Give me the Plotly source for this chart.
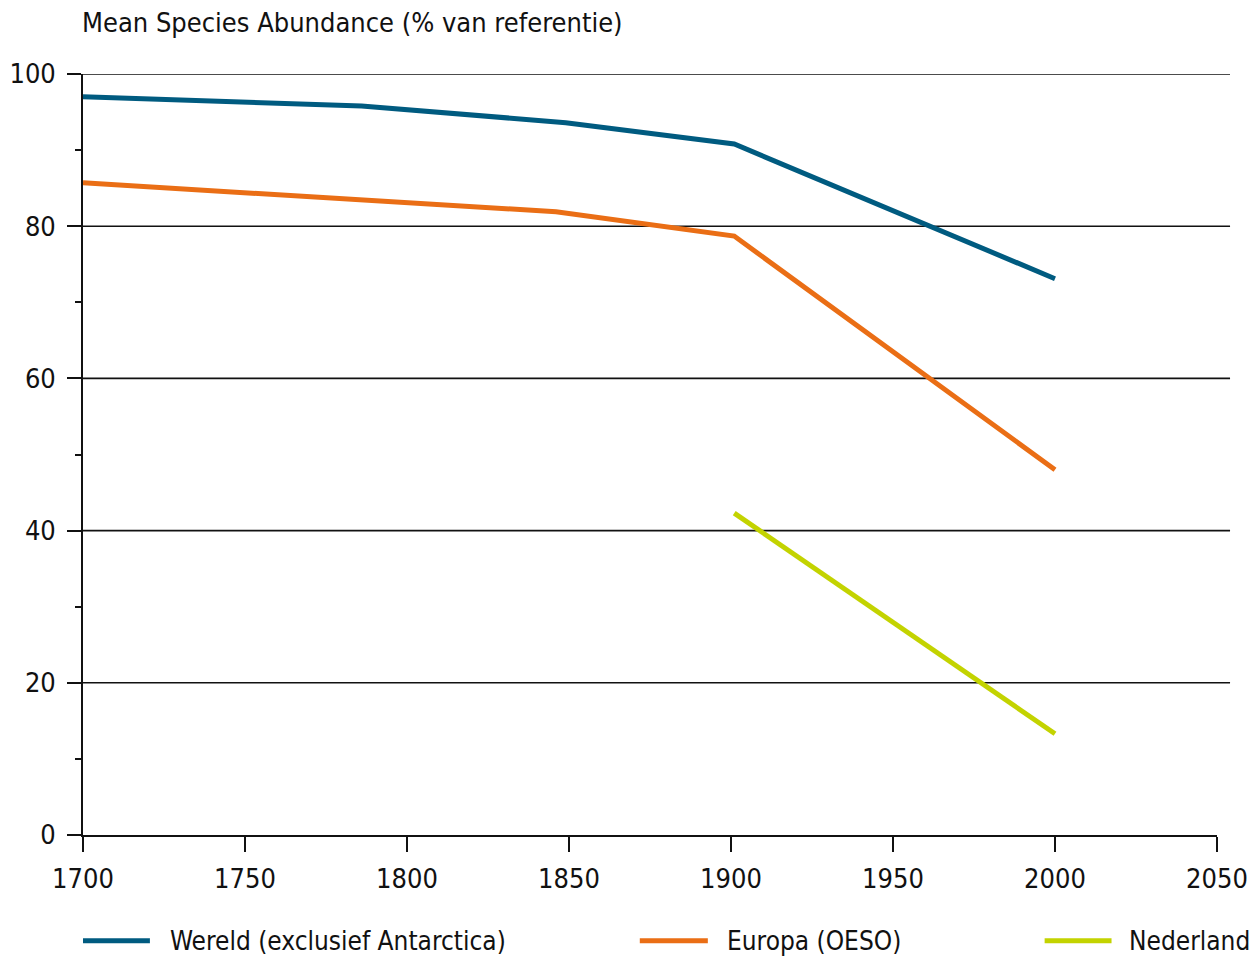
import plotly.graph_objects as go

series_names = ["Wereld (exclusief Antarctica)", "Europa (OESO)", "Nederland"]
colors = ["#005b80", "#ea6e15", "#c3d300"]

wereld_years = [1700, 1786, 1849, 1901, 2000]
wereld_msa = [97.0, 95.8, 93.6, 90.8, 73.1]

europa_years = [1700, 1846, 1901, 2000]
europa_msa = [85.7, 81.9, 78.7, 48.0]

nederland_years = [1901, 2000]
nederland_msa = [42.3, 13.3]

x_ticks = [1700, 1750, 1800, 1850, 1900, 1950, 2000, 2050]
y_ticks = [0, 20, 40, 60, 80, 100]
y_minor = [10, 30, 50, 70, 90]

FONT = "DejaVu Sans Condensed, Liberation Sans Narrow, Arial Narrow, sans-serif"
TXT = "#111111"

fig = go.Figure()
data = [(wereld_years, wereld_msa), (europa_years, europa_msa), (nederland_years, nederland_msa)]
for (xs, ys), name, col in zip(data, series_names, colors):
    fig.add_trace(go.Scatter(x=xs, y=ys, mode="lines", name=name,
                             line=dict(color=col, width=5), showlegend=False))

# horizontal gridlines (extend slightly past the last x tick, as in the reference)
for v in y_ticks[1:]:
    fig.add_shape(type="line", xref="paper", yref="y", x0=0, x1=1.0115, y0=v, y1=v,
                  line=dict(color=TXT, width=1.6), layer="below")

# manual legend
leg_line_x = [(0.0, 0.059), (0.491, 0.551), (0.848, 0.907)]
leg_text_x = [0.075, 0.566, 0.921]
leg_y = -0.139
for (x0, x1), tx, name, col in zip(leg_line_x, leg_text_x, series_names, colors):
    fig.add_shape(type="line", xref="paper", yref="paper", x0=x0, x1=x1, y0=leg_y, y1=leg_y,
                  line=dict(color=col, width=5))
    fig.add_annotation(xref="paper", yref="paper", x=tx, y=leg_y, text=name, showarrow=False,
                       xanchor="left", yanchor="middle", font=dict(size=26, color=TXT, family=FONT))

fig.add_annotation(xref="paper", yref="paper", x=-0.003, y=1.068,
                   text="Mean Species Abundance (% van referentie)", showarrow=False,
                   xanchor="left", yanchor="middle", font=dict(size=27, color=TXT, family=FONT))

fig.update_layout(
    width=1254, height=957,
    margin=dict(l=83, r=37, t=74, b=122),
    paper_bgcolor="white", plot_bgcolor="white",
    font=dict(family=FONT, size=27, color=TXT),
    showlegend=False,
)
fig.update_xaxes(range=[1700, 2050], tickvals=x_ticks, ticks="outside", ticklen=15,
                 tickwidth=1.6, tickcolor=TXT, showline=True, linecolor=TXT,
                 linewidth=1.6, showgrid=False, zeroline=False, fixedrange=True,
                 ticklabelstandoff=4, automargin=False)
fig.update_yaxes(range=[0, 100], tickvals=y_ticks, ticks="outside", ticklen=14,
                 tickwidth=1.6, tickcolor=TXT, showline=True, linecolor=TXT,
                 linewidth=1.6, showgrid=False, zeroline=False, fixedrange=True,
                 ticklabelstandoff=6, automargin=False,
                 minor=dict(tickvals=y_minor, ticks="outside", ticklen=6,
                            tickcolor=TXT, tickwidth=1.6, showgrid=False))

fig.write_html("out.html", config={"displayModeBar": False},
               post_script="document.body.style.margin='0';document.body.style.overflow='hidden';")
